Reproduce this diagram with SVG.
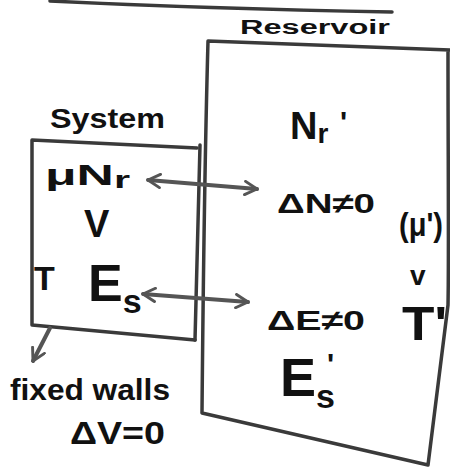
<svg xmlns="http://www.w3.org/2000/svg" width="450" height="467" viewBox="0 0 450 467">
<style>
.ln{fill:none;stroke:#3a3a3a;stroke-width:3.5;stroke-linecap:round;stroke-linejoin:round}
.ar{fill:none;stroke:#555;stroke-width:4;stroke-linecap:round;stroke-linejoin:round}
.t{font-family:"Liberation Sans",Arial,sans-serif;font-weight:bold;fill:#111}
</style>
<defs>
<marker id="h" viewBox="0 0 12 12" refX="10" refY="6" markerWidth="4" markerHeight="4" orient="auto-start-reverse" markerUnits="strokeWidth">
<path d="M1,1 L10,6 L1,11" fill="none" stroke="#555" stroke-width="2.2" stroke-linecap="round" stroke-linejoin="round"/>
</marker>
</defs>
<rect width="450" height="467" fill="#fff"/>
<path class="ln" d="M50,1 C150,6 280,10 392,12" stroke-width="2.5"/>
<g id="reservoir">
<path class="ln" d="M208,41 L450,50 M208,41 C205,150 203,300 202,413 L428,465 M448,52 C448,150 449,260 448,305 L428,465"/>
<text class="t" x="240" y="34" font-size="20" font-weight="normal" textLength="150" lengthAdjust="spacingAndGlyphs">Reservoir</text>
<text class="t" x="290" y="139" font-size="38">N<tspan font-size="28" dy="4">r</tspan><tspan x="340" y="132" font-size="30">'</tspan></text>
<text class="t" x="277" y="213" font-size="28" textLength="98" lengthAdjust="spacingAndGlyphs">ΔN≠0</text>
<text class="t" x="399" y="236" font-size="34" textLength="44" lengthAdjust="spacingAndGlyphs">(μ')</text>
<text class="t" x="410" y="285" font-size="28">v</text>
<text class="t" x="267" y="330" font-size="28" textLength="98" lengthAdjust="spacingAndGlyphs">ΔE≠0</text>
<text class="t" x="402" y="340" font-size="48" textLength="45" lengthAdjust="spacingAndGlyphs">T'</text>
<text class="t" x="280" y="396" font-size="54">E<tspan font-size="34" dy="12">s</tspan></text>
<text class="t" x="327" y="374" font-size="30">'</text>
</g>
<g id="system">
<path class="ln" d="M32,140 L197,148 M32,140 L32,325 L195,340"/>
<path class="ln" d="M200,145 C198,220 196,290 195,340" stroke-width="5"/>
<text class="t" x="50" y="128" font-size="28" font-weight="normal" textLength="115" lengthAdjust="spacingAndGlyphs">System</text>
<text class="t" x="45" y="185" font-size="30" textLength="85" lengthAdjust="spacingAndGlyphs">μN<tspan font-size="24" dy="3">r</tspan></text>
<text class="t" x="84" y="237" font-size="38">V</text>
<text class="t" x="34" y="290" font-size="34">T</text>
<text class="t" x="88" y="301" font-size="52">E<tspan font-size="34" dy="12">s</tspan></text>
</g>
<g id="walls">
<text class="t" x="10" y="400" font-size="30" textLength="160" lengthAdjust="spacingAndGlyphs">fixed walls</text>
<text class="t" x="70" y="444" font-size="32" textLength="95" lengthAdjust="spacingAndGlyphs">ΔV=0</text>
</g>
<g id="connectors">
<path class="ar" d="M148,180 L257,189" marker-start="url(#h)" marker-end="url(#h)"/>
<path class="ar" d="M143,294 L248,302" marker-start="url(#h)" marker-end="url(#h)"/>
<path class="ar" d="M50,328 L33,361" marker-end="url(#h)"/>
</g>
</svg>
